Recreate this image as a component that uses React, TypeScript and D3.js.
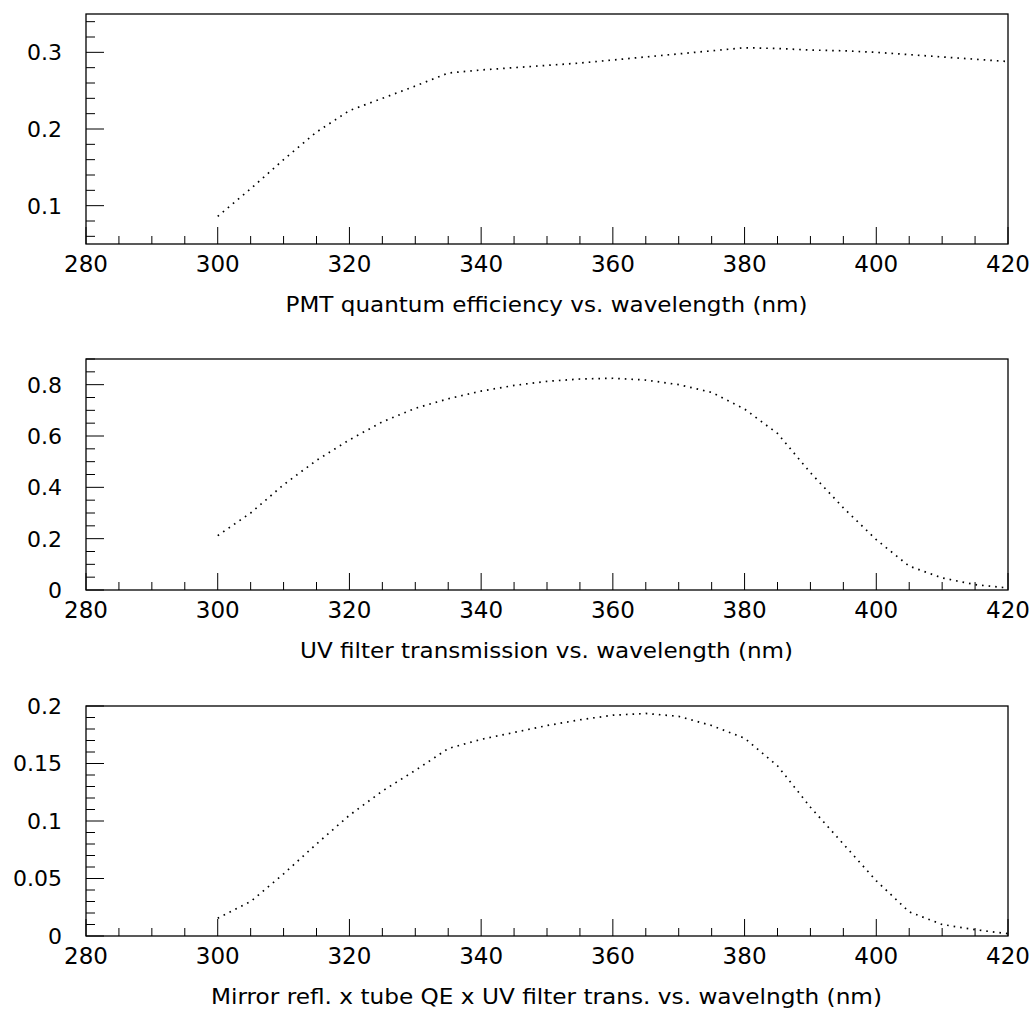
import React from "react";
import * as d3 from "d3";

// wavelength grid (nm)
const wavelengths = [300, 305, 310, 315, 320, 325, 330, 335, 340, 345, 350, 355, 360, 365, 370, 375, 380, 385, 390, 395, 400, 405, 410, 415, 420];

// PMT quantum efficiency
const qeValues = [0.086, 0.122, 0.160, 0.196, 0.224, 0.240, 0.256, 0.273, 0.277, 0.280, 0.283, 0.286, 0.290, 0.294, 0.298, 0.302, 0.306, 0.305, 0.303, 0.302, 0.300, 0.297, 0.294, 0.291, 0.288];

// UV filter transmission
const uvValues = [0.212, 0.300, 0.410, 0.505, 0.585, 0.655, 0.708, 0.745, 0.775, 0.797, 0.813, 0.822, 0.825, 0.818, 0.800, 0.770, 0.705, 0.610, 0.457, 0.320, 0.196, 0.093, 0.047, 0.021, 0.008];

// mirror x QE x filter
const productValues = [0.0154, 0.030, 0.054, 0.080, 0.105, 0.126, 0.144, 0.163, 0.171, 0.177, 0.183, 0.188, 0.192, 0.1935, 0.191, 0.183, 0.172, 0.148, 0.112, 0.080, 0.048, 0.021, 0.010, 0.0055, 0.002];

const xTickLabels = [280, 300, 320, 340, 360, 380, 400, 420];

const titles = [
  "PMT quantum efficiency vs. wavelength (nm)",
  "UV filter transmission vs. wavelength (nm)",
  "Mirror refl. x tube QE x UV filter trans. vs. wavelngth (nm)",
];

const yLabels1 = ["0.1", "0.2", "0.3"];
const yLabels2 = ["0", "0.2", "0.4", "0.6", "0.8"];
const yLabels3 = ["0", "0.05", "0.1", "0.15", "0.2"];

const panels = [
  { values: qeValues, domain: [0.05, 0.35], major: 0.1, minor: 0.02, labels: yLabels1, top: 14, bottom: 244, title: titles[0], titleLen: 522 },
  { values: uvValues, domain: [0, 0.9], major: 0.2, minor: 0.05, labels: yLabels2, top: 359, bottom: 590, title: titles[1], titleLen: 493 },
  { values: productValues, domain: [0, 0.2], major: 0.05, minor: 0.01, labels: yLabels3, top: 706, bottom: 936, title: titles[2], titleLen: 671 },
];

const LEFT = 86;
const RIGHT = 1008;
const FONT = "'DejaVu Sans', sans-serif";

function Panel({ p }: { p: any }) {
  const x = d3.scaleLinear().domain([280, 420]).range([LEFT, RIGHT]);
  const y = d3.scaleLinear().domain(p.domain).range([p.bottom, p.top]);

  const xMinor = d3.range(280, 420.01, 5);
  const eps = 1e-9;
  const yMinor = d3.range(Math.ceil(p.domain[0] / p.minor - eps) * p.minor, p.domain[1] + eps, p.minor);
  const isMajor = (v: number, step: number) => Math.abs(v / step - Math.round(v / step)) < 1e-6;

  const line = d3.line<number>()
    .x((_, i) => x(wavelengths[i]))
    .y(d => y(d));

  return (
    <g>
      {/* x ticks */}
      {xMinor.map(v => (
        <line key={"xt" + v} x1={x(v)} x2={x(v)} y1={p.bottom} y2={p.bottom - (isMajor(v - 280, 20) ? 17 : 8)} stroke="#000" strokeWidth={1} />
      ))}
      {/* y ticks */}
      {yMinor.map(v => (
        <line key={"yt" + v} x1={LEFT} x2={LEFT + (isMajor(v, p.major) ? 18 : 9)} y1={y(v)} y2={y(v)} stroke="#000" strokeWidth={1} />
      ))}
      <rect x={LEFT} y={p.top} width={RIGHT - LEFT} height={p.bottom - p.top} fill="none" stroke="#000" strokeWidth={1.3} />
      <path d={line(p.values) || ""} fill="none" stroke="#000" strokeWidth={1.7} strokeDasharray="1.6 5.0" />
      {xTickLabels.map(v => (
        <text key={"xl" + v} x={x(v)} y={p.bottom + 28} textAnchor="middle" fontSize={23} fontFamily={FONT}>{v}</text>
      ))}
      {p.labels.map((l: string) => (
        <text key={"yl" + l} x={62} y={y(+l)} dy="0.36em" textAnchor="end" fontSize={22} fontFamily={FONT}>{l}</text>
      ))}
      <text x={(LEFT + RIGHT) / 2 - 0.5} y={p.bottom + 68} textAnchor="middle" fontSize={21} fontFamily={FONT}
        textLength={p.titleLen} lengthAdjust="spacingAndGlyphs">{p.title}</text>
    </g>
  );
}

export default function App() {
  return (
    <svg width={1035} height={1012} style={{ position: "absolute", left: 0, top: 0, background: "#fff" }}>
      <rect x={0} y={0} width={1035} height={1012} fill="#fff" />
      {panels.map((p, i) => <Panel key={i} p={p} />)}
    </svg>
  );
}
